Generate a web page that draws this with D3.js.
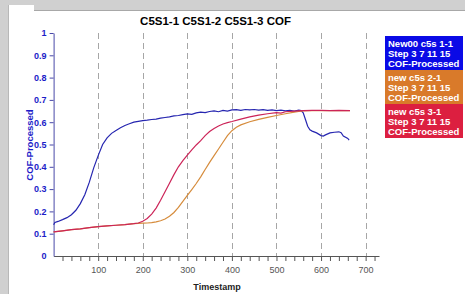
<!DOCTYPE html>
<html>
<head>
<meta charset="utf-8">
<script src="https://cdn.jsdelivr.net/npm/d3@7"></script>
<style>
  body { margin: 0; background: #d0d0d0; }
  svg { display: block; font-family: "Liberation Sans", Arial, sans-serif; }
</style>
</head>
<body>
<div id="chart"></div>
<script>
// data
var title = "C5S1-1 C5S1-2 C5S1-3 COF";
var xTicks = [100, 200, 300, 400, 500, 600, 700];
var yTicks = [0, 0.1, 0.2, 0.3, 0.4, 0.5, 0.6, 0.7, 0.8, 0.9, 1];

var blueT = [0, 3, 10, 20, 30, 40, 50, 60, 70, 80, 90, 100, 110, 120, 130, 140, 150, 160, 170, 180, 190, 200, 210, 220, 230, 240, 250, 260, 270, 280, 290, 300, 310, 320, 330, 340, 350, 360, 370, 380, 390, 400, 410, 420, 430, 440, 450, 460, 470, 480, 490, 500, 510, 520, 530, 540, 550, 555, 560, 565, 570, 575, 580, 590, 600, 605, 610, 620, 630, 640, 645, 650, 660, 663];
var blueV = [0.140, 0.150, 0.155, 0.163, 0.172, 0.185, 0.205, 0.235, 0.275, 0.330, 0.395, 0.450, 0.500, 0.530, 0.550, 0.563, 0.575, 0.585, 0.593, 0.600, 0.604, 0.607, 0.609, 0.612, 0.614, 0.618, 0.621, 0.624, 0.628, 0.630, 0.634, 0.637, 0.635, 0.642, 0.645, 0.643, 0.648, 0.651, 0.647, 0.653, 0.650, 0.655, 0.656, 0.653, 0.657, 0.655, 0.657, 0.654, 0.656, 0.653, 0.655, 0.652, 0.654, 0.651, 0.653, 0.650, 0.654, 0.652, 0.642, 0.612, 0.582, 0.566, 0.560, 0.552, 0.540, 0.538, 0.543, 0.552, 0.555, 0.557, 0.553, 0.538, 0.527, 0.520];

var orangeT = [0, 20, 40, 60, 80, 100, 120, 140, 160, 180, 190, 200, 210, 220, 230, 240, 250, 260, 270, 280, 290, 300, 310, 320, 330, 340, 350, 360, 370, 380, 390, 400, 410, 420, 440, 460, 480, 500, 520, 540, 550, 560, 580, 600, 620, 640, 665];
var orangeV = [0.108, 0.113, 0.118, 0.122, 0.127, 0.132, 0.135, 0.138, 0.141, 0.145, 0.146, 0.147, 0.148, 0.150, 0.153, 0.158, 0.166, 0.178, 0.195, 0.218, 0.245, 0.272, 0.298, 0.325, 0.355, 0.388, 0.420, 0.450, 0.480, 0.510, 0.540, 0.562, 0.577, 0.588, 0.602, 0.613, 0.622, 0.630, 0.638, 0.645, 0.648, 0.651, 0.652, 0.652, 0.652, 0.652, 0.652];

var redT = [0, 20, 40, 60, 80, 100, 120, 140, 160, 180, 190, 200, 210, 220, 230, 240, 250, 260, 270, 280, 290, 300, 310, 320, 330, 340, 350, 360, 370, 380, 390, 400, 420, 440, 460, 480, 500, 510, 520, 540, 560, 580, 600, 620, 640, 665];
var redV = [0.108, 0.113, 0.118, 0.122, 0.127, 0.132, 0.135, 0.138, 0.141, 0.145, 0.148, 0.156, 0.168, 0.188, 0.215, 0.250, 0.288, 0.326, 0.365, 0.400, 0.428, 0.452, 0.476, 0.498, 0.517, 0.540, 0.558, 0.572, 0.583, 0.592, 0.598, 0.603, 0.614, 0.624, 0.632, 0.638, 0.643, 0.641, 0.647, 0.650, 0.652, 0.653, 0.653, 0.652, 0.653, 0.652];

var legendNames = ["New00 c5s 1-1", "new c5s 2-1", "new c5s 3-1"];
var legendColors = ["#0a0ae6", "#d97a2a", "#dc1f40"];
var lineColors = ["#2626b0", "#d68c3c", "#cc2458"];

var width = 465, height = 294;
var svg = d3.select("#chart").append("svg")
    .attr("width", width)
    .attr("height", height);

// window frame
svg.append("rect").attr("x", 8).attr("y", 10).attr("width", width - 8).attr("height", height - 10).attr("fill", "#fff");
svg.append("rect").attr("x", 9).attr("y", 5).attr("width", 25).attr("height", 6).attr("fill", "#fff");
svg.append("line").attr("x1", 34).attr("x2", width).attr("y1", 10.5).attr("y2", 10.5).attr("stroke", "#a8a8a8");
svg.append("line").attr("x1", 8.5).attr("x2", 8.5).attr("y1", 5).attr("y2", height).attr("stroke", "#b8b8b8");

var x = d3.scaleLinear().domain([0, 730]).range([53.6, 379]);
var y = d3.scaleLinear().domain([0, 1]).range([256, 33]);

// dashed vertical grid
svg.append("g").selectAll("line")
    .data(xTicks)
    .enter().append("line")
    .attr("x1", function (d) { return Math.round(x(d)) + 0.5; })
    .attr("x2", function (d) { return Math.round(x(d)) + 0.5; })
    .attr("y1", y(1))
    .attr("y2", y(0))
    .attr("stroke", "#a6a6a6")
    .attr("stroke-dasharray", "6,4");

// x axis
var xAxis = svg.append("g")
    .attr("transform", "translate(0," + y(0) + ")")
    .call(d3.axisBottom(x).tickValues(d3.range(20, 730, 20)).tickSize(5).tickSizeOuter(0).tickFormat(function (d) { return d % 100 === 0 ? d : ""; }));
xAxis.select(".domain").attr("stroke", "#555");
xAxis.selectAll(".tick line").attr("stroke", "#555");
xAxis.selectAll("text").attr("fill", "#555").style("font-size", "9px").attr("dy", "0.95em");

// y axis
var yAxis = svg.append("g")
    .attr("transform", "translate(" + x(0) + ",0)")
    .call(d3.axisLeft(y).tickValues(yTicks).tickSize(4).tickSizeOuter(0).tickFormat(function (d) { return d3.format("~g")(d); }));
yAxis.select(".domain").attr("stroke", "#4848a8");
yAxis.selectAll(".tick line").attr("stroke", "#4848a8");
yAxis.selectAll(".tick").filter(function (d) { return d === 0; }).select("line").remove();
yAxis.selectAll("text").attr("fill", "#1c1cc8").style("font-size", "9px").style("font-weight", "bold").attr("x", -7);

// lines
var line = d3.line()
    .x(function (d) { return x(d[0]); })
    .y(function (d) { return y(d[1]); });

var series = [
    { t: blueT, v: blueV, c: lineColors[0] },
    { t: orangeT, v: orangeV, c: lineColors[1] },
    { t: redT, v: redV, c: lineColors[2] }
];
series.forEach(function (s) {
    svg.append("path")
        .datum(d3.zip(s.t, s.v))
        .attr("d", line)
        .attr("fill", "none")
        .attr("stroke", s.c)
        .attr("stroke-width", 1.2);
});

// title and axis labels
svg.append("text")
    .attr("x", 215.5).attr("y", 25)
    .attr("text-anchor", "middle")
    .style("font-size", "11.5px").style("font-weight", "bold")
    .text(title);

svg.append("text")
    .attr("x", 217).attr("y", 290)
    .attr("text-anchor", "middle")
    .style("font-size", "9px").style("font-weight", "bold")
    .attr("fill", "#222")
    .text("Timestamp");

svg.append("text")
    .attr("transform", "translate(33,145) rotate(-90)")
    .attr("text-anchor", "middle")
    .style("font-size", "9.5px").style("font-weight", "bold")
    .attr("fill", "#1c1cc8")
    .text("COF-Processed");

// legend
var leg = svg.append("g").attr("transform", "translate(385,36)");
legendNames.forEach(function (name, i) {
    var g = leg.append("g").attr("transform", "translate(0," + (i * 34) + ")");
    g.append("rect").attr("width", 78).attr("height", 34).attr("fill", legendColors[i]);
    [name, "Step 3 7 11 15", "COF-Processed"].forEach(function (txt, j) {
        g.append("text")
            .attr("x", 3).attr("y", 11 + j * 10)
            .attr("fill", "#fff")
            .style("font-size", "9.5px").style("font-weight", "bold")
            .text(txt);
    });
});
</script>
</body>
</html>
